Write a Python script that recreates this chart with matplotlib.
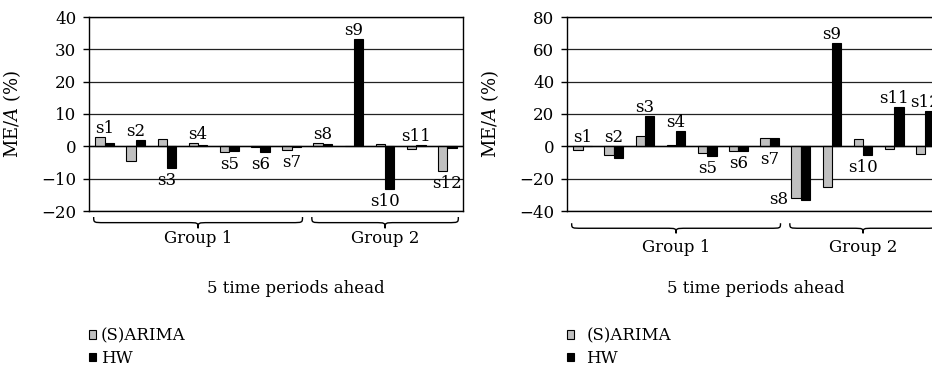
import numpy as np
import matplotlib
matplotlib.use('Agg')
import matplotlib.pyplot as plt
from matplotlib.path import Path
from matplotlib.patches import PathPatch
from matplotlib.transforms import blended_transform_factory

# D A T A  ---------------------------------------------------------
series_names = ['(S)ARIMA', 'HW']
series_labels = ['s1', 's2', 's3', 's4', 's5', 's6', 's7', 's8', 's9', 's10', 's11', 's12']
group_names = ['Group 1', 'Group 2']
group_first = [0, 7]   # first series index in group
group_last = [6, 11]   # last series index in group
x_title = '5 time periods ahead'
y_title = 'ME/$\\mathit{A}$ (%)'

# left panel (ME/A in %)
left_arima = [3.0, -4.4, 2.2, 1.0, -1.6, -0.3, -1.1, 1.0, 0.0, 0.7, -0.8, -7.7]
left_hw = [1.0, 2.0, -6.7, 0.5, -1.4, -1.8, -0.3, 0.8, 33.3, -13.1, 0.5, -0.6]
left_yticks = [-20, -10, 0, 10, 20, 30, 40]
left_label_side = ['above', 'above', 'below', 'above', 'below', 'below', 'below',
                   'above', 'above', 'below', 'above', 'below']

# right panel
right_arima = [-2.0, -5.6, 6.2, 1.0, -3.9, -2.9, 5.2, -31.9, -25.0, 4.5, -1.6, -4.7]
right_hw = [0.4, -7.0, 18.6, 9.3, -5.8, -2.9, 5.2, -32.9, 64.0, -5.5, 24.5, 21.6]
right_yticks = [-40, -20, 0, 20, 40, 60, 80]
right_label_side = ['above', 'above', 'above', 'above', 'below', 'below', 'below',
                    'left', 'above', 'below', 'above', 'above']

# S T Y L E ---------------------------------------------------------
plt.rcParams['font.family'] = ['DejaVu Serif']
plt.rcParams['mathtext.fontset'] = 'dejavuserif'
FS = 12
GREY = '#c0c0c0'
BAR_W = 0.3

W, H = 932, 375
fig = plt.figure(figsize=(W / 100, H / 100), dpi=100)

def px_axes(x0, y0, x1, y1):
    return fig.add_axes([x0 / W, 1 - y1 / H, (x1 - x0) / W, (y1 - y0) / H])

def brace(ax, xa, xb, ytop, ytip):
    # curly brace under the axis, x in data, y in axes coords
    tr = blended_transform_factory(ax.transData, ax.transAxes)
    yb = (ytop + ytip) / 2
    xc = (xa + xb) / 2
    q = 0.35
    verts = [(xa, ytop), (xa, yb), (xa, yb), (xa + q, yb),
             (xc - q, yb), (xc, yb), (xc, yb), (xc, ytip),
             (xc, yb), (xc, yb), (xc + q, yb),
             (xb - q, yb), (xb, yb), (xb, yb), (xb, ytop)]
    codes = [Path.MOVETO, Path.CURVE4, Path.CURVE4, Path.CURVE4,
             Path.LINETO, Path.CURVE4, Path.CURVE4, Path.CURVE4,
             Path.CURVE4, Path.CURVE4, Path.CURVE4,
             Path.LINETO, Path.CURVE4, Path.CURVE4, Path.CURVE4]
    ax.add_patch(PathPatch(Path(verts, codes), fc='none', ec='black', lw=1.0,
                           transform=tr, clip_on=False))

def panel(ax, arima, hw, yticks, sides, brace_top, brace_tip, grp_y, xlab_x,
          leg_pad):
    x = np.arange(len(series_labels))
    b1 = ax.bar(x - BAR_W / 2, arima, BAR_W, color=GREY, edgecolor='black',
                lw=0.8, label=series_names[0], zorder=3)
    b2 = ax.bar(x + BAR_W / 2, hw, BAR_W, color='black', edgecolor='black',
                lw=0.8, label=series_names[1], zorder=3)
    ax.set_xlim(-0.5, len(x) - 0.5)
    ax.set_ylim(yticks[0], yticks[-1])
    ax.set_yticks(yticks)
    ax.set_xticks([])
    ax.yaxis.grid(True, color='#222222', lw=0.9, zorder=0)
    ax.axhline(0, color='black', lw=1.0, zorder=4)
    for s in ax.spines.values():
        s.set_linewidth(1.0)
    ax.tick_params(axis='y', length=4, width=1, pad=5, labelsize=FS)
    ax.set_ylabel(y_title, fontsize=FS + 1)
    ax.yaxis.set_label_coords(-0.176, 0.5)

    for i, side in enumerate(sides):
        top = max(0, arima[i], hw[i])
        bot = min(0, arima[i], hw[i])
        if side == 'above':
            ax.annotate(series_labels[i], (x[i], top), xytext=(0, 0),
                        textcoords='offset points', ha='center', va='bottom',
                        fontsize=FS)
        elif side == 'below':
            ax.annotate(series_labels[i], (x[i], bot), xytext=(0, -3),
                        textcoords='offset points', ha='center', va='top',
                        fontsize=FS)
        else:
            ax.annotate(series_labels[i], (x[i] - BAR_W, bot), xytext=(-2, 0),
                        textcoords='offset points', ha='right', va='center',
                        fontsize=FS)

    for g in range(len(group_names)):
        xa = group_first[g] - 0.35
        xb = group_last[g] + 0.35
        brace(ax, xa, xb, brace_top, brace_tip)
        tr = blended_transform_factory(ax.transData, ax.transAxes)
        ax.text((xa + xb) / 2, grp_y, group_names[g], transform=tr,
                ha='center', va='top', fontsize=FS)

    ax.text(xlab_x, -0.398, x_title, transform=ax.transAxes, ha='center',
            va='center', fontsize=FS)

    ax.legend(handles=[b1, b2], loc='upper left', bbox_to_anchor=(0.0, -0.60),
              frameon=False, fontsize=FS, handlelength=0.4, handleheight=0.4,
              handletextpad=leg_pad, labelspacing=0.33, borderpad=0,
              borderaxespad=0)

ax1 = px_axes(89, 17, 463, 211)
panel(ax1, left_arima, left_hw, left_yticks, left_label_side,
      -0.031, -0.089, -0.100, 0.553, 0.3)

ax2 = px_axes(567, 17, 941, 211)
ax2.spines['right'].set_visible(False)
panel(ax2, right_arima, right_hw, right_yticks, right_label_side,
      -0.063, -0.115, -0.145, 0.505, 0.75)

fig.savefig('out.png', dpi=100)
